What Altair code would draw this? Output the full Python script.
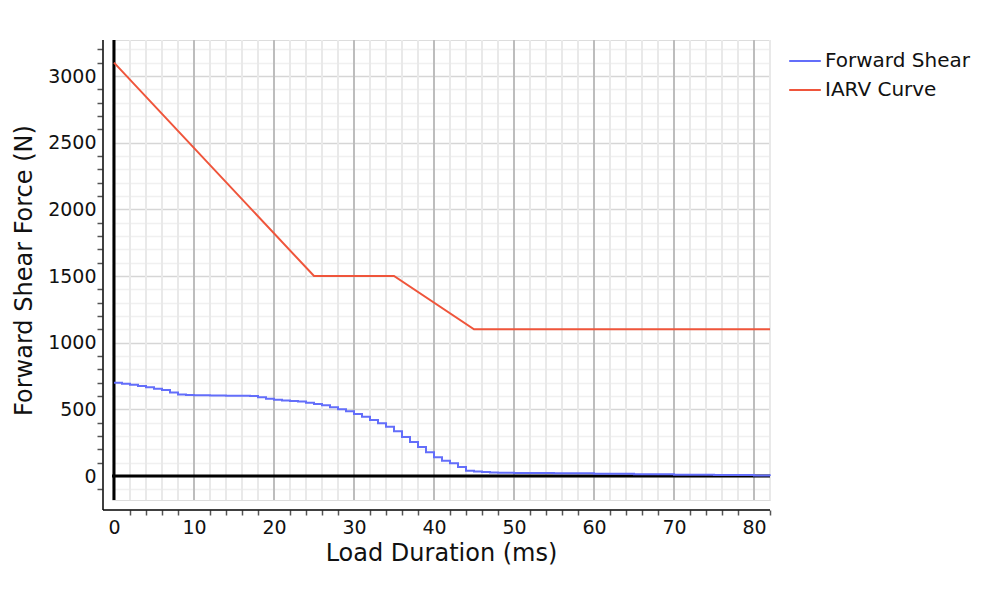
import altair as alt
import pandas as pd

# ---- data ----
fs_time = [0, 1, 2, 3, 4, 5, 6, 7, 8, 9, 10, 12, 14, 17, 18, 19, 20, 21, 22, 23, 24, 25,
           26, 27, 28, 29, 30, 31, 32, 33, 34, 35, 36, 37, 38, 39, 40, 41, 42, 43, 44,
           45, 46, 47, 48, 50, 55, 60, 65, 70, 75, 80, 82]
fs_force = [700, 692, 684, 675, 665, 655, 645, 627, 612, 608, 606, 604, 602, 600, 590, 580,
            572, 566, 562, 558, 550, 540, 530, 515, 500, 485, 465, 445, 420, 395, 370, 335,
            292, 255, 218, 178, 140, 115, 95, 68, 40, 33, 30, 27, 25, 23, 20, 17, 14, 10, 7, 3, 1]

iarv_time = [0, 25, 35, 45, 82]
iarv_force = [3100, 1500, 1500, 1100, 1100]

series_names = ["Forward Shear", "IARV Curve"]
series_colors = ["#636efa", "#ef553b"]

x_ticks = list(range(0, 83, 2))
y_ticks = list(range(-100, 3201, 100))

FONT = "DejaVu Sans"
W, H = 658, 460

fs_df = pd.DataFrame({"t": fs_time, "f": fs_force, "series": series_names[0]})
iarv_df = pd.DataFrame({"t": iarv_time, "f": iarv_force, "series": series_names[1]})
zero_df = pd.DataFrame({"z": [0]})
xgrid_df = pd.DataFrame({"t": x_ticks, "major": [v % 10 == 0 for v in x_ticks]})

x_scale = alt.Scale(domain=[-0.25, 82], nice=False, zero=False)
y_scale = alt.Scale(domain=[-180, 3270], nice=False, zero=False)
color_scale = alt.Scale(domain=series_names, range=series_colors)

x_axis = alt.Axis(
    values=x_ticks, tickCount=200, title="Load Duration (ms)", offset=10, domain=False,
    grid=False, format="d",
    labelExpr="datum.value % 10 === 0 ? datum.label : ''",
    tickColor={"condition": {"test": "datum.value % 10 === 0", "value": "transparent"}, "value": "#555555"},
    tickSize=5, tickWidth=1.5,
    labelFont=FONT, labelFontSize=19, labelColor="#111111", labelPadding=3,
    titleFont=FONT, titleFontSize=24, titleFontWeight="normal", titleColor="#111111", titlePadding=4,
    labelFlush=False, labelOverlap=False,
)
y_axis = alt.Axis(
    values=y_ticks, tickCount=200, title="Forward Shear Force (N)", offset=10, domain=False,
    labelExpr="datum.value % 500 === 0 ? datum.label : ''",
    tickColor={"condition": {"test": "datum.value % 500 === 0", "value": "transparent"}, "value": "#555555"},
    tickSize=5, tickWidth=1.5,
    gridColor={"condition": {"test": "datum.value % 500 === 0", "value": "#d6d6d6"}, "value": "#f0f0f0"},
    gridWidth=1.5,
    labelFont=FONT, labelFontSize=19, labelColor="#111111", labelPadding=1,
    titleFont=FONT, titleFontSize=24, titleFontWeight="normal", titleColor="#111111", titlePadding=11,
    labelFlush=False, labelOverlap=False, format="d",
)

base_grid = alt.Chart(zero_df).mark_point(opacity=0).encode(
    x=alt.X("z:Q", scale=x_scale, axis=x_axis),
    y=alt.Y("z:Q", scale=y_scale, axis=y_axis),
)

# vertical grid lines drawn above the horizontal ones
xgrid = alt.Chart(xgrid_df).mark_rule(strokeWidth=2).encode(
    x=alt.X("t:Q", scale=x_scale),
    y=alt.value(0), y2=alt.value(H),
    color=alt.condition("datum.major", alt.value("#bdbdbd"), alt.value("#e9e9e9")),
)

vzero = alt.Chart(zero_df).mark_rule(color="black", strokeWidth=3).encode(
    x=alt.X("z:Q", scale=x_scale), y=alt.value(0), y2=alt.value(H))
hzero = alt.Chart(zero_df).mark_rule(color="black", strokeWidth=3).encode(
    y=alt.Y("z:Q", scale=y_scale), x=alt.value(0), x2=alt.value(W))

# axis lines (offset from plot area, meeting at the corner)
bottom_line = alt.Chart(zero_df).mark_rule(color="black", strokeWidth=1.5).encode(
    x=alt.value(-9), x2=alt.value(W), y=alt.value(H + 10))
left_line = alt.Chart(zero_df).mark_rule(color="black", strokeWidth=1.5).encode(
    x=alt.value(-9), y=alt.value(0), y2=alt.value(H + 10))

legend = alt.Legend(
    title=None, orient="none", legendX=676, legendY=4,
    symbolType="stroke", symbolSize=1000, symbolStrokeWidth=2,
    labelFont=FONT, labelFontSize=20, labelColor="#111111", labelOffset=3,
    rowPadding=2, labelLimit=300,
)

fs_line = alt.Chart(fs_df).mark_line(strokeWidth=2, interpolate="step-after").encode(
    x=alt.X("t:Q", scale=x_scale),
    y=alt.Y("f:Q", scale=y_scale),
    color=alt.Color("series:N", scale=color_scale, legend=legend),
)
iarv_line = alt.Chart(iarv_df).mark_line(strokeWidth=2).encode(
    x=alt.X("t:Q", scale=x_scale),
    y=alt.Y("f:Q", scale=y_scale),
    color=alt.Color("series:N", scale=color_scale, legend=legend),
)

chart = alt.layer(base_grid, xgrid, vzero, hzero, fs_line, iarv_line, bottom_line, left_line).properties(
    width=W, height=H,
    autosize=alt.AutoSizeParams(type="none"),
    padding={"left": 104, "top": 32, "right": 220, "bottom": 85},
).configure_view(stroke=None).configure(background="white")

chart.save("out.html", embed_options={"renderer": "svg", "actions": False})
